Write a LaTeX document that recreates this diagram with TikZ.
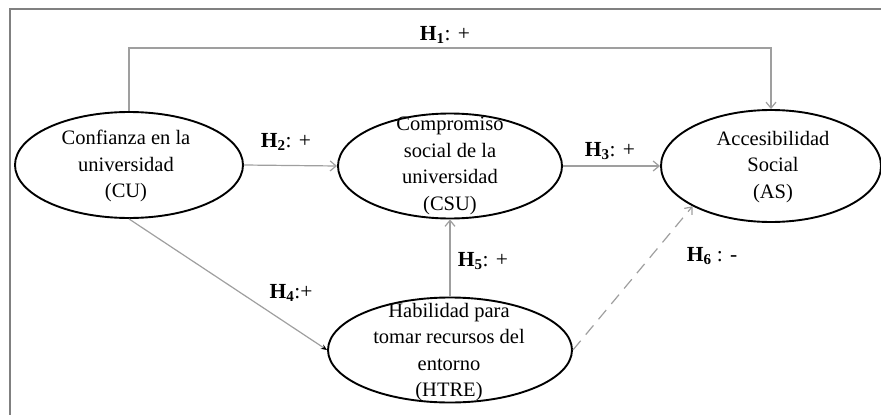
\documentclass[tikz,border=0pt]{standalone}
\usepackage{fontspec}
\setmainfont{Liberation Serif}
\usetikzlibrary{shapes.geometric,arrows.meta}
\begin{document}
\begin{tikzpicture}[x=1pt,y=-1pt,
  var/.style={ellipse,draw=black,line width=1.9pt,inner sep=0pt},
  vtext/.style={align=center,inner sep=0pt,font=\fontsize{20.5}{26.5}\selectfont},
  conn/.style={draw=gray!75,line width=1.2pt,-{Straight Barb[length=6pt,width=10pt]}},
  hyp/.style={font=\fontsize{21.5}{24}\selectfont,inner sep=0pt}]
\useasboundingbox (0,0) rectangle (881,415);
\draw[gray,line width=2.2pt] (10,415) -- (10,9) -- (881,9);
% variables
\node[var,minimum width=228pt,minimum height=106pt] (cu) at (129,165) {};
\node[var,minimum width=224pt,minimum height=105pt] (csu) at (450,166) {};
\node[var,minimum width=220pt,minimum height=112pt] (as) at (771,166) {};
\node[var,minimum width=244pt,minimum height=105pt] (htre) at (450,350) {};
\node[vtext] (cut) at (126,166) {Confianza en la\\universidad\\(CU)};
\node[vtext] (csut) at (450,166) {Compromiso\\social de la\\universidad\\(CSU)};
\node[vtext] (ast) at (773,167) {Accesibilidad\\Social\\(AS)};
\node[vtext] (htret) at (449,352) {Habilidad para\\tomar recursos del\\entorno\\(HTRE)};
% connectors
\coordinate (h1c) at (450,48);
\draw[conn] (cu.north) |- (h1c) -| (as.north);
\draw[conn] (cu.east) -- (csu.west);
\draw[conn] (csu.east) -- (as.west);
\draw[conn,-{Stealth[length=6pt,width=5pt,black]}] (cu.south) -- (htre.west);
\draw[conn] (htre.north) -- (csu.south);
\draw[conn,dashed,dash pattern=on 12pt off 8pt] (htre.east) -- (as.south west);
% labels
\node[hyp] (l1) at (445,35) {\textbf{H\textsubscript{1}}: +};
\node[hyp] (l2) at (286,142) {\textbf{H\textsubscript{2}}: +};
\node[hyp] (l3) at (610,151) {\textbf{H\textsubscript{3}}: +};
\node[hyp] (l4) at (291,293) {\textbf{H\textsubscript{4}}:+};
\node[hyp] (l5) at (483,261) {\textbf{H\textsubscript{5}}: +};
\node[hyp] (l6) at (712,256) {\textbf{H\textsubscript{6}} : -};
\end{tikzpicture}
\end{document}
